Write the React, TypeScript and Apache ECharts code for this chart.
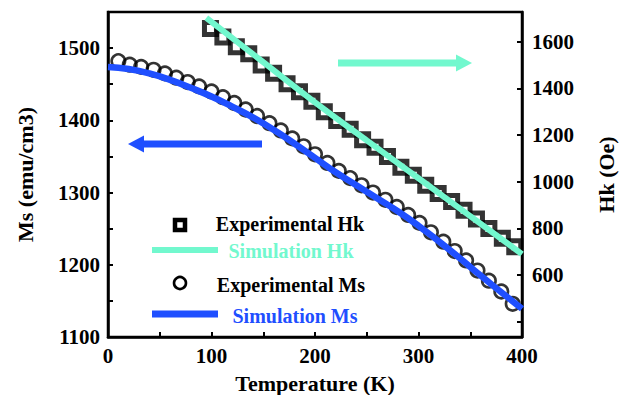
import React, { useEffect, useRef } from "react";
import * as echarts from "echarts";

// Experimental saturation magnetisation (circles)
const msTemps = [10, 21, 32, 44, 55, 66, 77, 88, 100, 111, 122, 133, 144, 156, 167, 178, 189, 200, 212, 223, 234, 245, 256, 268, 279, 290, 301, 312, 324, 335, 346, 357, 368, 380, 391];
const msExp = [1482, 1477, 1474, 1470, 1465, 1459, 1453, 1447, 1440, 1432, 1424, 1415, 1406, 1396, 1386, 1375, 1364, 1353, 1341, 1330, 1320, 1310, 1300, 1290, 1280, 1269, 1258, 1245, 1232, 1219, 1206, 1192, 1178, 1163, 1146];

// Simulated Ms (blue line)
const simMsTemps = [0, 20, 40, 60, 80, 100, 120, 140, 160, 180, 200, 220, 240, 260, 280, 300, 320, 340, 360, 380, 400];
const simMs = [1474, 1471, 1465, 1456, 1445, 1433, 1419, 1404, 1387, 1368, 1348, 1328, 1310, 1292, 1274, 1254, 1232, 1209, 1185, 1162, 1139];

// Experimental anisotropy field (squares)
const hkTemps = [99, 111, 124, 136, 148, 160, 173, 185, 197, 209, 221, 234, 246, 258, 270, 283, 295, 307, 319, 332, 344, 356, 368, 381, 393];
const hkExp = [1656, 1620, 1578, 1548, 1500, 1465, 1420, 1385, 1345, 1300, 1262, 1225, 1180, 1148, 1108, 1062, 1028, 985, 950, 915, 878, 840, 800, 758, 722];

// Simulated Hk (green line)
const simHkTemps = [95, 150, 200, 250, 300, 350, 400];
const simHk = [1702, 1512, 1340, 1177, 1015, 853, 690];

// Axis ticks / labels
const xTickLabels = [0, 100, 200, 300, 400];
const xTicks = [0, 50, 100, 150, 200, 250, 300, 350, 400];
const msTickLabels = [1100, 1200, 1300, 1400, 1500];
const msTicks = [1100, 1150, 1200, 1250, 1300, 1350, 1400, 1450, 1500];
const hkTickLabels = [600, 800, 1000, 1200, 1400, 1600];
const hkTicks = [400, 600, 800, 1000, 1200, 1400, 1600];

const legendLabels = ["Experimental Hk", "Simulation Hk", "Experimental Ms", "Simulation Ms"];

const GREEN = "#72F8CE";
const BLUE = "#1F4FFF";
const FONT = "Liberation Serif";

export default function App() {
  const ref = useRef<HTMLDivElement>(null);

  useEffect(() => {
    if (!ref.current) return;
    const chart = echarts.init(ref.current, undefined, { renderer: "svg" });

    const axisCommon = {
      type: "value" as const,
      splitLine: { show: false },
      axisLine: { show: true, onZero: false, lineStyle: { color: "#000", width: 2.5 } },
      axisTick: { show: true, inside: true, length: 5, lineStyle: { color: "#000", width: 2 } },
      axisLabel: {
        color: "#000",
        fontSize: 21,
        fontWeight: "bold" as const,
        fontFamily: FONT,
        formatter: (v: number) => String(v),
      },
      nameTextStyle: { color: "#000", fontSize: 22, fontWeight: "bold" as const, fontFamily: FONT },
      nameLocation: "middle" as const,
    };

    const legendFont = `bold 20px ${FONT}`;

    chart.setOption({
      animation: false,
      backgroundColor: "#fff",
      textStyle: { fontFamily: FONT },
      grid: {
        left: 108,
        right: 105,
        top: 12,
        bottom: 58,
        show: true,
        borderColor: "#000",
        borderWidth: 2.5,
        backgroundColor: "transparent",
        containLabel: false,
        outerBoundsMode: "none",
      },
      xAxis: {
        ...axisCommon,
        min: 0,
        max: 400,
        name: "Temperature (K)",
        nameGap: 35,
        axisTick: { ...axisCommon.axisTick, customValues: xTicks },
        axisLabel: { ...axisCommon.axisLabel, margin: 8, customValues: xTickLabels },
      },
      yAxis: [
        {
          ...axisCommon,
          position: "left",
          min: 1100,
          max: 1550,
          name: "Ms (emu/cm3)",
          nameGap: 72,
          axisTick: { ...axisCommon.axisTick, customValues: msTicks },
          axisLabel: { ...axisCommon.axisLabel, margin: 8, customValues: msTickLabels },
        },
        {
          ...axisCommon,
          position: "right",
          min: 335,
          max: 1727,
          name: "Hk (Oe)",
          nameGap: 73,
          axisTick: { ...axisCommon.axisTick, customValues: hkTicks },
          axisLabel: { ...axisCommon.axisLabel, margin: 10, customValues: hkTickLabels },
        },
      ],
      series: [
        {
          name: legendLabels[0],
          type: "scatter",
          yAxisIndex: 1,
          symbol: "rect",
          symbolSize: 12,
          data: hkTemps.map((t, i) => [t, hkExp[i]]),
          itemStyle: { color: "rgba(255,255,255,0)", borderColor: "#000", borderWidth: 5 },
          z: 2,
        },
        {
          name: legendLabels[2],
          type: "scatter",
          yAxisIndex: 0,
          symbol: "circle",
          symbolSize: 13.5,
          data: msTemps.map((t, i) => [t, msExp[i]]),
          itemStyle: { color: "rgba(255,255,255,0)", borderColor: "#000", borderWidth: 2.6 },
          z: 2,
        },
        {
          name: legendLabels[1],
          type: "line",
          yAxisIndex: 1,
          smooth: true,
          symbol: "none",
          showSymbol: false,
          data: simHkTemps.map((t, i) => [t, simHk[i]]),
          lineStyle: { color: GREEN, width: 6 },
          z: 3,
        },
        {
          name: legendLabels[3],
          type: "line",
          yAxisIndex: 0,
          smooth: true,
          symbol: "none",
          showSymbol: false,
          data: simMsTemps.map((t, i) => [t, simMs[i]]),
          lineStyle: { color: BLUE, width: 6.5 },
          z: 3,
        },
      ],
      graphic: [
        // legend
        {
          type: "rect",
          shape: { x: 175, y: 220, width: 10, height: 10 },
          style: { fill: "#fff", stroke: "#000", lineWidth: 4.5 },
          z: 10,
        },
        {
          type: "text",
          x: 290,
          y: 224,
          style: { text: legendLabels[0], fill: "#000", font: legendFont, textAlign: "center", textVerticalAlign: "middle" },
          z: 10,
        },
        {
          type: "line",
          shape: { x1: 152, y1: 250, x2: 218, y2: 250 },
          style: { stroke: GREEN, lineWidth: 6 },
          z: 10,
        },
        {
          type: "text",
          x: 291,
          y: 251,
          style: { text: legendLabels[1], fill: GREEN, font: legendFont, textAlign: "center", textVerticalAlign: "middle" },
          z: 10,
        },
        {
          type: "circle",
          shape: { cx: 180, cy: 283, r: 6 },
          style: { fill: "#fff", stroke: "#000", lineWidth: 2.6 },
          z: 10,
        },
        {
          type: "text",
          x: 291,
          y: 285,
          style: { text: legendLabels[2], fill: "#000", font: legendFont, textAlign: "center", textVerticalAlign: "middle" },
          z: 10,
        },
        {
          type: "line",
          shape: { x1: 152, y1: 314, x2: 218, y2: 314 },
          style: { stroke: BLUE, lineWidth: 7 },
          z: 10,
        },
        {
          type: "text",
          x: 295,
          y: 316,
          style: { text: legendLabels[3], fill: BLUE, font: legendFont, textAlign: "center", textVerticalAlign: "middle" },
          z: 10,
        },
        // green arrow (points to right axis)
        {
          type: "line",
          shape: { x1: 338, y1: 63, x2: 458, y2: 63 },
          style: { stroke: GREEN, lineWidth: 7 },
          z: 10,
        },
        {
          type: "polygon",
          shape: { points: [[456, 54.5], [472, 63], [456, 71.5]] },
          style: { fill: GREEN },
          z: 10,
        },
        // blue arrow (points to left axis)
        {
          type: "line",
          shape: { x1: 142, y1: 144, x2: 262, y2: 144 },
          style: { stroke: BLUE, lineWidth: 7 },
          z: 10,
        },
        {
          type: "polygon",
          shape: { points: [[128, 144], [144, 135.5], [144, 152.5]] },
          style: { fill: BLUE },
          z: 10,
        },
      ],
    });

    return () => chart.dispose();
  }, []);

  return (
    <div
      ref={ref}
      style={{ position: "fixed", left: 0, top: 0, width: 627, height: 395 }}
    />
  );
}
